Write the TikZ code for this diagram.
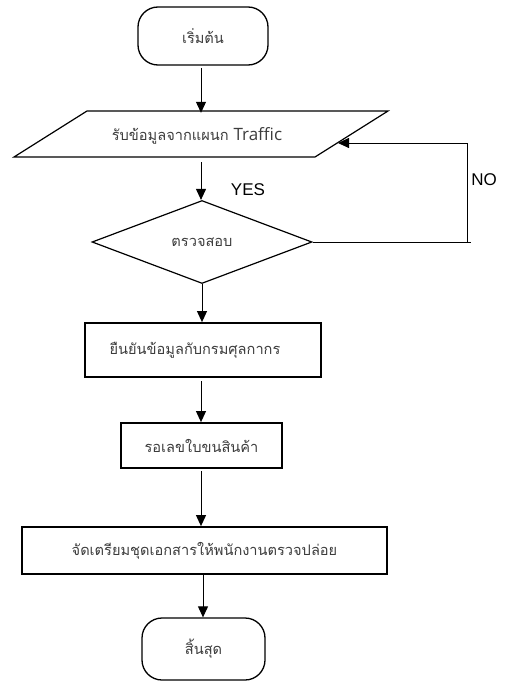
\documentclass[tikz,border=0pt]{standalone}
\usepackage{fontspec}
\setmainfont{Liberation Sans}
\newfontfamily\thaifont[Script=Thai]{Loma}
\newfontfamily\latinfont{Open Sans}
\usetikzlibrary{arrows.meta,shapes.geometric}
\definecolor{textgray}{RGB}{60,60,60}
\begin{document}
\begin{tikzpicture}[x=1pt,y=-1pt,
  thaitext/.style={font=\thaifont\fontsize{14.6}{17}\selectfont, text=textgray},
  term/.style={draw, line width=1.3pt, rounded corners=20pt, thaitext, inner sep=0pt},
  proc/.style={draw, line width=1.8pt, thaitext, inner sep=0pt},
  arr/.style={-{Triangle[width=10pt,length=11pt]}, line width=1pt},
  lbl/.style={font=\fontsize{17}{19}\selectfont, text=black}
]
\useasboundingbox (0,0) rectangle (526,685);

% start
\node[term, minimum width=130pt, minimum height=58pt] (start) at (203,36) {เริ่มต้น};

% parallelogram (input)
\draw[line width=1.2pt] (87,111) -- (388,111) -- (315,157) -- (14,157) -- cycle;
\node[thaitext, minimum width=300pt, minimum height=46pt, inner sep=0pt] (inp) at (197,136) {รับข้อมูลจากแผนก {\latinfont\fontsize{17}{19}\selectfont Traffic}};
\coordinate (inr) at (338,143);

% decision
\node[draw, diamond, line width=1.2pt, minimum width=220pt, minimum height=83pt, inner sep=0pt, thaitext] (dec) at (202,242) {\raisebox{-4pt}{ตรวจสอบ}};

% processes
\node[proc, minimum width=236pt, minimum height=54pt] (p1) at (203,350) {ยืนยันข้อมูลกับกรมศุลกากร\hspace*{16pt}};
\node[proc, minimum width=161pt, minimum height=45pt] (p2) at (201.5,445.5) {รอเลขใบขนสินค้า};
\node[proc, minimum width=365pt, minimum height=47pt] (p3) at (204.5,550.5) {จัดเตรียมชุดเอกสารให้พนักงานตรวจปล่อย};

% end
\node[term, minimum width=123pt, minimum height=62pt] (end) at (203.5,649) {สิ้นสุด};

% labels
\node[lbl] (yes) at (248,190) {YES};
\node[lbl] (no) at (484,180) {NO};

% connectors
\coordinate (a1s) at (201,68);
\draw[arr] (a1s) -- (a1s |- inp.north);
\coordinate (a2s) at (201,162);
\draw[arr] (a2s) -- (a2s |- dec.north);
\draw[arr] (dec.south) -- (dec.south |- p1.north);
\coordinate (a4s) at (201,381);
\draw[arr] (a4s) -- (a4s |- p2.north);
\coordinate (a5s) at (201,471);
\draw[arr] (a5s) -- (a5s |- p3.north);
\coordinate (a6s) at (203,575);
\draw[arr] (a6s) -- (a6s |- end.north);

% NO loop
\coordinate (c1) at (467,242);
\coordinate (c2) at (467,143);
\coordinate (c0) at (471,242);
\draw[line width=0.8pt] (dec.east) -- (c0);
\draw[arr, line width=0.8pt] (c1) -- (c2) -- (inr);
\end{tikzpicture}
\end{document}
